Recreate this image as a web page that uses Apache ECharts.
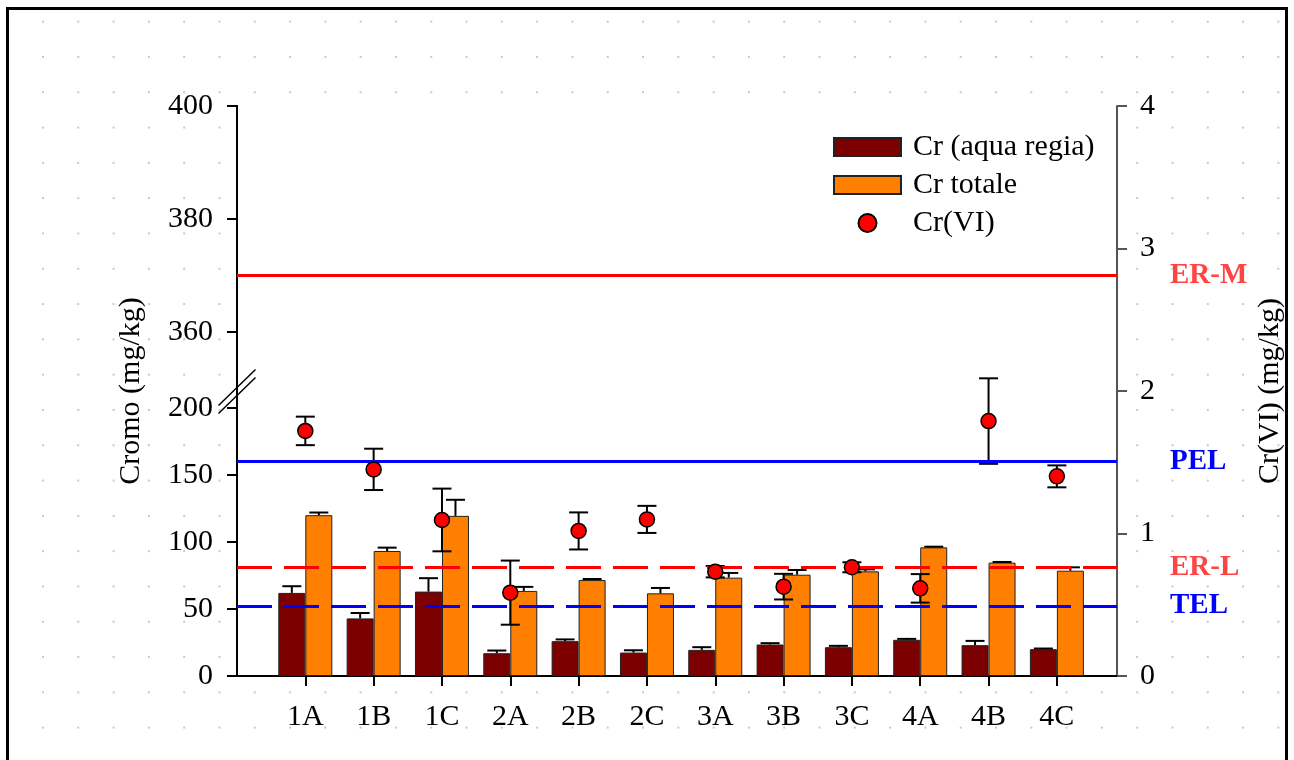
<!DOCTYPE html>
<html>
<head>
<meta charset="utf-8">
<script src="https://cdn.jsdelivr.net/npm/echarts@6/dist/echarts.min.js"></script>
<style>
  html, body { margin: 0; padding: 0; }
  body {
    width: 1294px; height: 760px; overflow: hidden;
    background-color: #fff;
    background-image: radial-gradient(circle at 1px 1px, #c8c8c8 0.8px, transparent 1px);
    background-size: 35.3px 35.3px;
    background-position: 42px 56px;
  }
  #frame { position: absolute; left: 6px; top: 7px; width: 1282px; height: 770px; border: 3px solid #000; box-sizing: border-box; }
  #chart { position: absolute; left: 0; top: 0; width: 1294px; height: 760px; }
</style>
</head>
<body>
<div id="frame"></div>
<div id="chart"></div>
<script>
const categories = ['1A', '1B', '1C', '2A', '2B', '2C', '3A', '3B', '3C', '4A', '4B', '4C'];
const crAquaRegia = [62, 43, 63, 17, 26, 17.5, 19.5, 23.5, 21.5, 27, 23, 20];
const crAquaRegiaErr = [5, 4, 10, 2, 1.3, 1.7, 2, 1, 1, 0.7, 3.2, 0.5];
const crTotale = [120, 93.3, 119.5, 63.5, 71.6, 61.7, 73.4, 75.6, 78.1, 96, 84.6, 78.6];
const crTotaleErr = [2, 2.5, 12, 3, 0.8, 4, 3.5, 3.5, 1.5, 0.5, 0.5, 2.5];
const crVI = [1.72, 1.45, 1.095, 0.585, 1.018, 1.099, 0.732, 0.627, 0.763, 0.615, 1.789, 1.401];
const crVIErr = [0.1, 0.145, 0.22, 0.225, 0.13, 0.095, 0.04, 0.09, 0.035, 0.1, 0.3, 0.077];
const upperTicks = [360, 380, 400];
const guideNames = ['ER-M', 'PEL', 'ER-L', 'TEL'];
const guideValues = [370, 160, 81, 52.3];

const FONT = 'Liberation Serif';
const BAR_W = 27;
const CAP = 9.5;
const positions = categories.map((c, i) => i + 1);

const chart = echarts.init(document.getElementById('chart'));

function errRenderer(offset, twoSided) {
  return function (params, api) {
    const x = api.value(0), v = api.value(1), e = api.value(2);
    const top = api.coord([x, v + e]);
    const bot = api.coord([x, twoSided ? v - e : v]);
    const cx = top[0] + offset;
    const st = { stroke: '#000', lineWidth: 2 };
    const kids = [
      { type: 'line', shape: { x1: cx, y1: bot[1], x2: cx, y2: top[1] }, style: st },
      { type: 'line', shape: { x1: cx - CAP, y1: top[1], x2: cx + CAP, y2: top[1] }, style: st }
    ];
    if (twoSided) kids.push({ type: 'line', shape: { x1: cx - CAP, y1: bot[1], x2: cx + CAP, y2: bot[1] }, style: st });
    return { type: 'group', children: kids };
  };
}

function guideLine(i, color, labelColor, dashed) {
  return {
    name: guideNames[i],
    yAxis: guideValues[i],
    lineStyle: { color: color, width: 3, type: dashed ? [35, 12] : 'solid' },
    label: { color: labelColor }
  };
}

const xBase = { type: 'value', min: 0, max: 12.88, splitLine: { show: false } };
const axisText = { fontSize: 30, fontFamily: FONT, color: '#000' };
const guideLabel = { show: true, position: 'end', distance: 53, formatter: '{b}', fontSize: 29, fontWeight: 'bold', fontFamily: FONT };

chart.setOption({
  animation: false,
  textStyle: { fontFamily: FONT },
  grid: [
    { left: 237, right: 177, top: 106, bottom: 371.5 },
    { left: 237, right: 177, top: 408, bottom: 84 },
    { left: 237, right: 177, top: 106, bottom: 84, show: true, backgroundColor: '#fff', borderWidth: 0 }
  ],
  legend: {
    orient: 'vertical', left: 828, top: 127, itemWidth: 67, itemHeight: 18, itemGap: 8,
    textStyle: { fontSize: 30, fontFamily: FONT, color: '#000', padding: [0, 0, 0, 7] },
    data: [
      { name: 'Cr (aqua regia)', icon: 'rect' },
      { name: 'Cr totale', icon: 'rect' },
      { name: 'Cr(VI)', icon: 'circle' }
    ]
  },
  xAxis: [
    Object.assign({ gridIndex: 0, show: false }, xBase),
    Object.assign({ gridIndex: 1, position: 'bottom',
      axisLine: { lineStyle: { color: '#000', width: 2 } },
      axisTick: { customValues: positions, length: 10, lineStyle: { color: '#000', width: 2 } },
      axisLabel: Object.assign({ customValues: positions, margin: 26, formatter: v => categories[v - 1] }, axisText)
    }, xBase),
    Object.assign({ gridIndex: 2, position: 'top',
      axisLine: { lineStyle: { color: '#000', width: 2 } },
      axisTick: { show: false }, axisLabel: { show: false }
    }, xBase)
  ],
  yAxis: [
    { gridIndex: 0, type: 'value', min: 350, max: 400, position: 'left', splitLine: { show: false },
      axisLine: { show: true, lineStyle: { color: '#000', width: 2 } },
      axisTick: { customValues: upperTicks, length: 10, lineStyle: { color: '#000', width: 2 } },
      axisLabel: Object.assign({ customValues: upperTicks, margin: 24 }, axisText) },
    { gridIndex: 1, type: 'value', min: 0, max: 200, interval: 50, position: 'left', splitLine: { show: false },
      axisLine: { show: true, lineStyle: { color: '#000', width: 2 } },
      axisTick: { length: 10, lineStyle: { color: '#000', width: 2 } },
      axisLabel: Object.assign({ margin: 24 }, axisText) },
    { gridIndex: 2, type: 'value', min: 0, max: 1, position: 'left', splitLine: { show: false },
      axisLine: { show: true, lineStyle: { color: '#000', width: 2 } },
      axisTick: { show: false }, axisLabel: { show: false },
      name: 'Cromo (mg/kg)', nameLocation: 'middle', nameRotate: 90, nameGap: 91, nameTextStyle: axisText },
    { gridIndex: 2, type: 'value', min: 0, max: 4, interval: 1, position: 'right', splitLine: { show: false },
      axisLine: { show: true, lineStyle: { color: '#555', width: 2 } },
      axisTick: { length: 10, lineStyle: { color: '#555', width: 2 } },
      axisLabel: Object.assign({ margin: 23 }, axisText),
      name: 'Cr(VI) (mg/kg)', nameLocation: 'middle', nameRotate: 90, nameGap: 138, nameTextStyle: axisText }
  ],
  series: [
    { name: 'Cr (aqua regia)', type: 'bar', xAxisIndex: 1, yAxisIndex: 1, barWidth: BAR_W, barGap: '0%', z: 2,
      itemStyle: { color: '#7c0000', borderColor: '#222', borderWidth: 1 },
      data: positions.map((p, i) => [p, crAquaRegia[i]]) },
    { name: 'Cr totale', type: 'bar', xAxisIndex: 1, yAxisIndex: 1, barWidth: BAR_W, barGap: '0%', z: 2,
      itemStyle: { color: '#ff8000', borderColor: '#222', borderWidth: 1 },
      data: positions.map((p, i) => [p, crTotale[i]]) },
    { type: 'line', xAxisIndex: 0, yAxisIndex: 0, data: [], z: 3,
      markLine: { silent: true, symbol: 'none', label: guideLabel,
        data: [guideLine(0, '#ff0000', '#ff4444', false)] } },
    { type: 'line', xAxisIndex: 1, yAxisIndex: 1, data: [], z: 3,
      markLine: { silent: true, symbol: 'none', label: guideLabel,
        data: [guideLine(1, '#0000ff', '#0000ff', false), guideLine(2, '#ff0000', '#ff4444', true), guideLine(3, '#0000ff', '#0000ff', true)] } },
    { type: 'custom', xAxisIndex: 1, yAxisIndex: 1, z: 4, renderItem: errRenderer(-BAR_W / 2, false),
      data: positions.map((p, i) => [p, crAquaRegia[i], crAquaRegiaErr[i]]) },
    { type: 'custom', xAxisIndex: 1, yAxisIndex: 1, z: 4, renderItem: errRenderer(BAR_W / 2, false),
      data: positions.map((p, i) => [p, crTotale[i], crTotaleErr[i]]) },
    { type: 'custom', xAxisIndex: 2, yAxisIndex: 3, z: 4, renderItem: errRenderer(0, true),
      data: positions.map((p, i) => [p, crVI[i], crVIErr[i]]) },
    { name: 'Cr(VI)', type: 'scatter', xAxisIndex: 2, yAxisIndex: 3, z: 5, symbolSize: 15,
      itemStyle: { color: '#ff0000', borderColor: '#000', borderWidth: 1.5, opacity: 1 },
      data: positions.map((p, i) => [p, crVI[i]]) }
  ]
});

// axis break marks "//" placed between the two value ranges
const yTop = chart.convertToPixel({ yAxisIndex: 0 }, 350);
const xAx = chart.convertToPixel({ xAxisIndex: 1 }, 0);
const yc = yTop + 3;
const slash = dy => ({ type: 'line', z: 100,
  shape: { x1: xAx - 18.5, y1: yc + dy + 18, x2: xAx + 18.5, y2: yc + dy - 18 },
  style: { stroke: '#000', lineWidth: 1.5 } });
chart.setOption({ graphic: [slash(-4), slash(4)] });
</script>
</body>
</html>
